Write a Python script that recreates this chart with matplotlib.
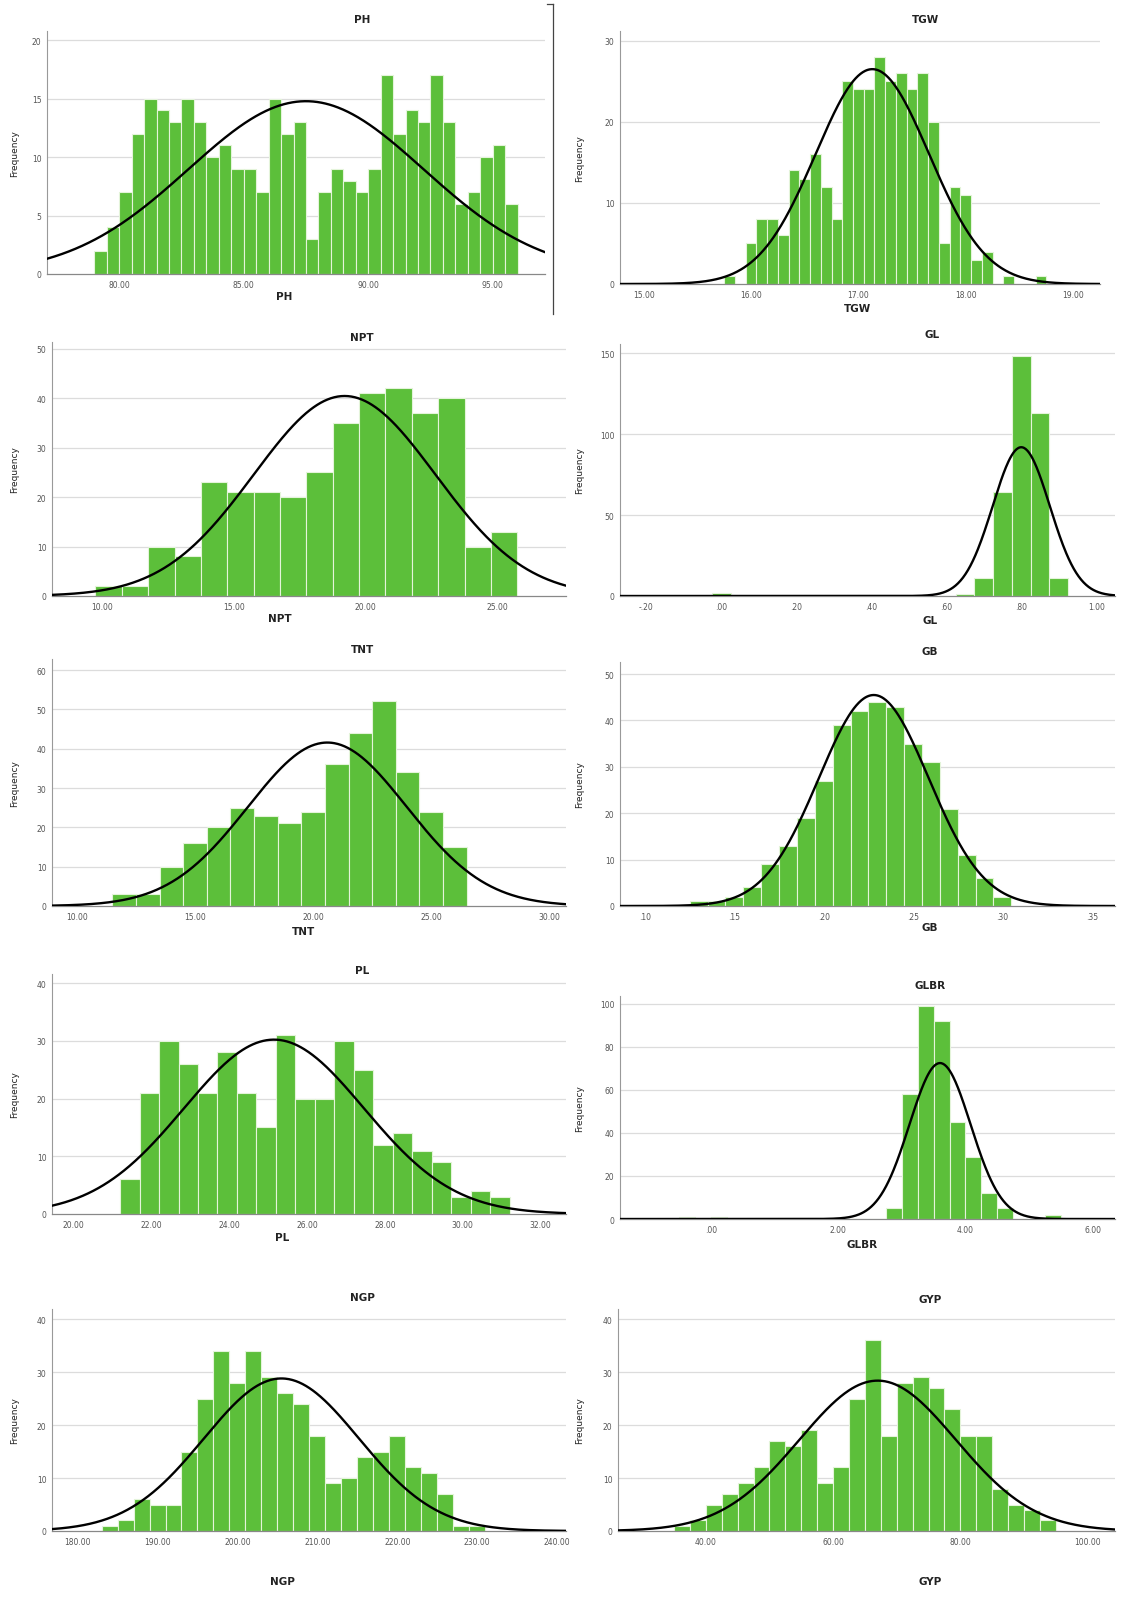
import numpy as np
import matplotlib
matplotlib.use("Agg")
import matplotlib.pyplot as plt
from matplotlib.lines import Line2D

# ================= DATA =================
names = ["PH", "TGW", "NPT", "GL", "TNT", "GB", "PL", "GLBR", "NGP", "GYP"]

# first bin edge and bin width per variable
bin_start = [79.0, 15.75, 9.75, -0.025, 11.5, 0.125, 21.2, -0.5, 183.0, 35.0]
bin_width = [0.5, 0.1, 1.0, 0.05, 1.0, 0.01, 0.5, 0.25, 2.0, 2.5]

ph_counts = [2, 4, 7, 12, 15, 14, 13, 15, 13, 10, 11, 9, 9, 7, 15, 12, 13, 3,
             7, 9, 8, 7, 9, 17, 12, 14, 13, 17, 13, 6, 7, 10, 11, 6]
tgw_counts = [1, 0, 5, 8, 8, 6, 14, 13, 16, 12, 8, 25, 24, 24, 28, 25, 26, 24,
              26, 20, 5, 12, 11, 3, 4, 0, 1, 0, 0, 1]
npt_counts = [2, 2, 10, 8, 23, 21, 21, 20, 25, 35, 41, 42, 37, 40, 10, 13]
gl_counts = [2, 0, 0, 0, 0, 0, 0, 0, 0, 0, 0, 0, 0, 1, 11, 64, 148, 113, 11]
tnt_counts = [3, 3, 10, 16, 20, 25, 23, 21, 24, 36, 44, 52, 34, 24, 15]
gb_counts = [1, 1, 2, 4, 9, 13, 19, 27, 39, 42, 44, 43, 35, 31, 21, 11, 6, 2]
pl_counts = [6, 21, 30, 26, 21, 28, 21, 15, 31, 20, 20, 30, 25, 12, 14, 11,
             9, 3, 4, 3]
glbr_counts = [1, 0, 1, 0, 0, 0, 0, 0, 0, 0, 0, 0, 0, 5, 58, 99, 92, 45, 29,
               12, 5, 0, 0, 2]
ngp_counts = [1, 2, 6, 5, 5, 15, 25, 34, 28, 34, 29, 26, 24, 18, 9, 10, 14,
              15, 18, 12, 11, 7, 1, 1]
gyp_counts = [1, 2, 5, 7, 9, 12, 17, 16, 19, 9, 12, 25, 36, 18, 28, 29, 27,
              23, 18, 18, 8, 5, 4, 2]

all_counts = [ph_counts, tgw_counts, npt_counts, gl_counts, tnt_counts,
              gb_counts, pl_counts, glbr_counts, ngp_counts, gyp_counts]

# normal curve parameters (mean, std)
curve_mean = [87.5, 17.13, 19.2, 0.80, 20.6, 0.228, 25.15, 3.6, 205.5, 67.0]
curve_sd = [4.72, 0.527, 3.45, 0.076, 3.36, 0.0307, 2.31, 0.48, 9.7, 12.3]

x_ticks = [
    [80, 85, 90, 95],
    [15, 16, 17, 18, 19],
    [10, 15, 20, 25],
    [-0.2, 0.0, 0.2, 0.4, 0.6, 0.8, 1.0],
    [10, 15, 20, 25, 30],
    [0.10, 0.15, 0.20, 0.25, 0.30, 0.35],
    [20, 22, 24, 26, 28, 30, 32],
    [0, 2, 4, 6],
    [180, 190, 200, 210, 220, 230, 240],
    [40, 60, 80, 100],
]
y_ticks = [
    [0, 5, 10, 15, 20],
    [0, 10, 20, 30],
    [0, 10, 20, 30, 40, 50],
    [0, 50, 100, 150],
    [0, 10, 20, 30, 40, 50, 60],
    [0, 10, 20, 30, 40, 50],
    [0, 10, 20, 30, 40],
    [0, 20, 40, 60, 80, 100],
    [0, 10, 20, 30, 40],
    [0, 10, 20, 30, 40],
]

# ================= LAYOUT (pixels) =================
W, H = 1144, 1608
# left, right, top, bottom, ymax, xmin, xmax
layout = [
    (47, 545, 32, 275, 20.8, 77.1, 97.1),
    (620, 1100, 32, 285, 31.2, 14.78, 19.25),
    (52, 566, 343, 597, 51.4, 8.1, 27.6),
    (620, 1115, 345, 597, 155.6, -0.27, 1.05),
    (52, 566, 660, 907, 62.8, 8.95, 30.7),
    (620, 1115, 663, 907, 52.6, 0.086, 0.363),
    (52, 566, 975, 1215, 41.6, 19.45, 32.65),
    (620, 1115, 997, 1220, 103.7, -1.43, 6.35),
    (52, 566, 1310, 1532, 41.9, 176.8, 241.1),
    (618, 1115, 1310, 1532, 41.9, 26.2, 104.3),
]
title_pos = [(362, 20), (925, 20), (362, 338), (932, 335), (362, 650),
             (930, 652), (362, 971), (930, 986), (362, 1298), (930, 1300)]
xlabel_pos = [(284, 297), (858, 309), (280, 619), (930, 621), (303, 932),
              (930, 928), (282, 1238), (862, 1245), (282, 1582), (930, 1582)]

BAR_COLOR = "#5cbf3a"
EDGE_COLOR = "#e4f4da"
GRID_COLOR = "#dcdcdc"


def spss_fmt(v):
    s = f"{v:.2f}"
    if s.startswith("0."):
        s = s[1:]
    elif s.startswith("-0."):
        s = "-" + s[2:]
    return s


fig = plt.figure(figsize=(W / 100, H / 100), dpi=100)

for i, name in enumerate(names):
    L, R, T, B, ymax, xmin, xmax = layout[i]
    ax = fig.add_axes([L / W, 1 - B / H, (R - L) / W, (B - T) / H])

    counts = np.array(all_counts[i], dtype=float)
    w = bin_width[i]
    edges = bin_start[i] + w * np.arange(len(counts))
    ax.bar(edges, counts, width=w, align="edge", color=BAR_COLOR,
           edgecolor=EDGE_COLOR, linewidth=0.8, zorder=2)

    xs = np.linspace(xmin, xmax, 600)
    m, sd = curve_mean[i], curve_sd[i]
    ys = counts.sum() * w / (sd * np.sqrt(2 * np.pi)) * np.exp(-0.5 * ((xs - m) / sd) ** 2)
    ax.plot(xs, ys, color="black", lw=1.7, zorder=3)

    ax.set_xlim(xmin, xmax)
    ax.set_ylim(0, ymax)
    ax.set_xticks(x_ticks[i])
    ax.set_xticklabels([spss_fmt(v) for v in x_ticks[i]])
    ax.set_yticks(y_ticks[i])
    ax.set_yticklabels([str(v) for v in y_ticks[i]])
    ax.tick_params(length=0, labelsize=5.5, labelcolor="#555555", pad=4)
    for t in y_ticks[i]:
        if t > 0:
            ax.axhline(t, color=GRID_COLOR, lw=0.9, zorder=1)
    for s in ["top", "right"]:
        ax.spines[s].set_visible(False)
    ax.spines["left"].set_color("#999999")
    ax.spines["left"].set_linewidth(0.8)
    ax.spines["bottom"].set_color("#888888")
    ax.spines["bottom"].set_linewidth(0.9)

    fig.text(title_pos[i][0] / W, 1 - title_pos[i][1] / H, name,
             ha="center", va="center", fontsize=7.5, fontweight="bold",
             color="#222222")
    fig.text(xlabel_pos[i][0] / W, 1 - xlabel_pos[i][1] / H, name,
             ha="center", va="center", fontsize=7.5, fontweight="bold",
             color="#222222")
    ylab_x = 15 if L < 300 else 580
    fig.text(ylab_x / W, 1 - ((T + B) / 2) / H, "Frequency", rotation=90,
             ha="center", va="center", fontsize=6.5, color="#222222")

# separator line next to the first chart
fig.add_artist(Line2D([553 / W, 553 / W], [1 - 5 / H, 1 - 315 / H],
                      color="#444444", lw=0.9))
fig.add_artist(Line2D([547 / W, 553 / W], [1 - 5 / H, 1 - 5 / H],
                      color="#444444", lw=0.9))

fig.savefig("out.png", dpi=100, facecolor="white")
